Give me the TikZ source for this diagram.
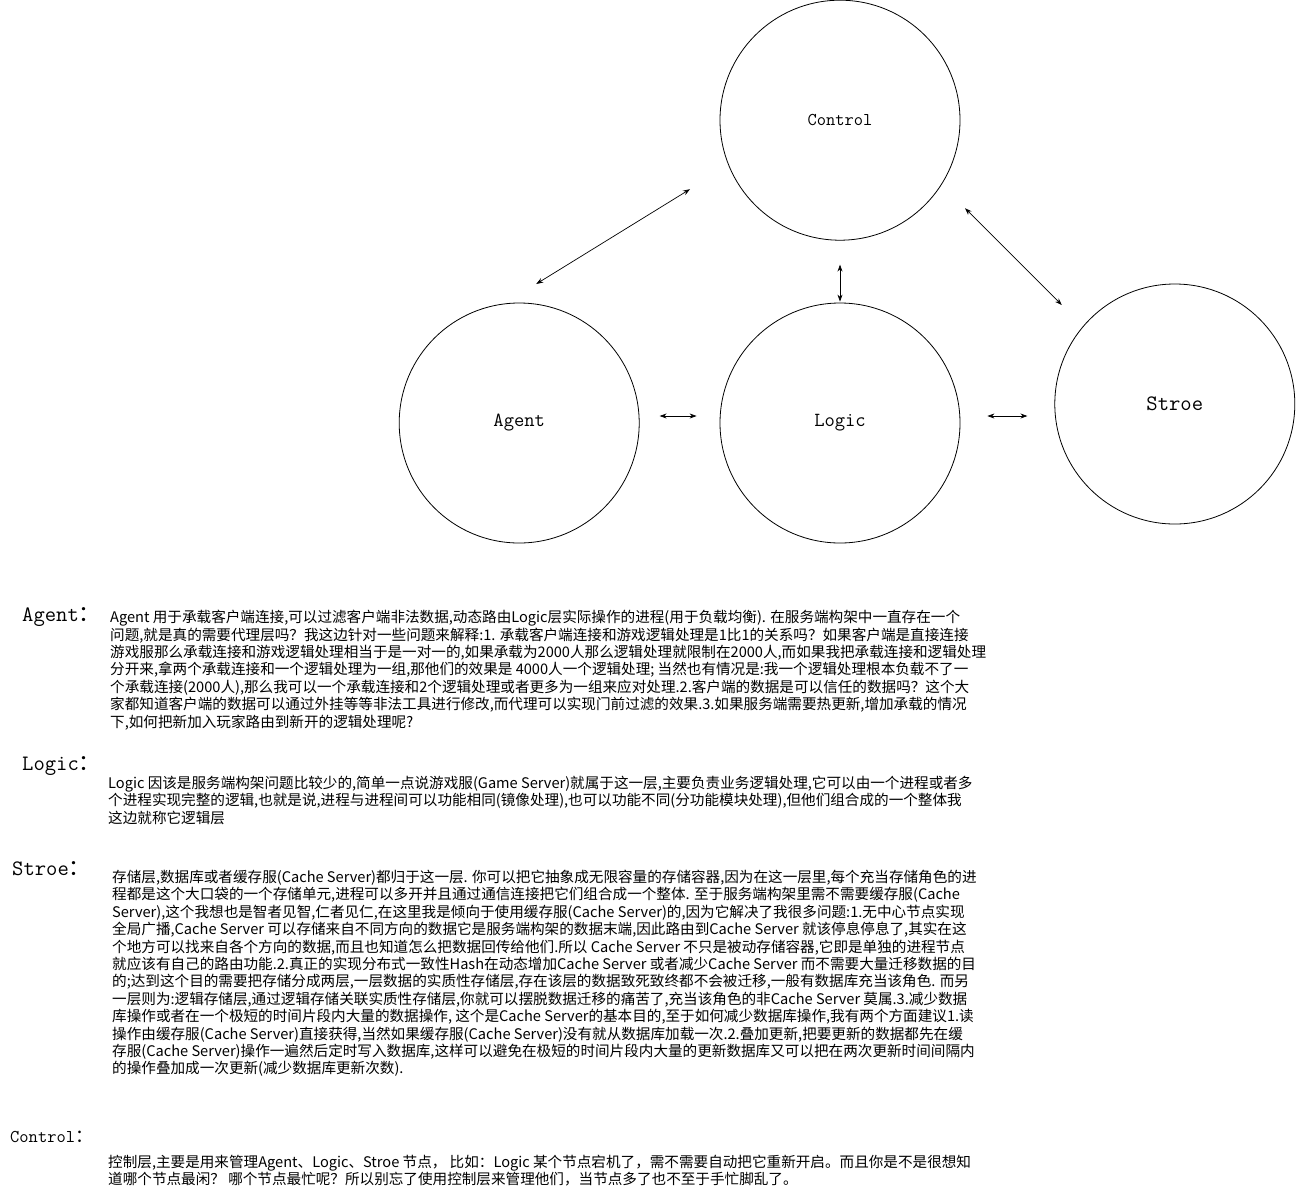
\documentclass[tikz,border=0pt]{standalone}
\usepackage{fontspec}
\newfontfamily\cjk{Noto Sans CJK SC}
\usetikzlibrary{calc,positioning,arrows.meta}

\begin{document}
\begin{tikzpicture}[x=1pt,y=-1pt,
    layer/.style={circle,draw,line width=0.8pt,minimum size=240pt,inner sep=0pt,font=\ttfamily\fontsize{20}{20}\selectfont},
    link/.style={<->,>={Stealth[length=7pt,width=5pt]},line width=0.7pt},
    head/.style={anchor=west,inner sep=0pt,font=\ttfamily\fontsize{22}{22}\selectfont},
    body/.style={anchor=north west,inner sep=0pt,align=left,font=\cjk\fontsize{14.6}{17.4}\selectfont}]
  \useasboundingbox (0,0) rectangle (1296,1195);
  \node[layer] (logic) at (840,423) {Logic};
  \node[layer,left=80pt of logic] (agent) {Agent};
  \node[layer,above=62pt of logic,font=\ttfamily\fontsize{18}{18}\selectfont] (ctrl) {Control};
  \node[layer,right=94pt of logic,yshift=19pt,font=\ttfamily\fontsize{22}{22}\selectfont] (stroe) {Stroe};
  \coordinate (ls) at ([yshift=7pt]logic.east);
  \draw[link,shorten <=20pt,shorten >=23pt] ([yshift=7pt]agent.east) -- ([yshift=7pt]logic.west);
  \draw[link,shorten <=27pt,shorten >=27pt] (ls) -- (ls -| stroe.west);
  \draw[link,shorten <=24pt,shorten >=1pt] (ctrl) -- (logic);
  \draw[link] ([shift={(-150,69)}]ctrl.center) -- ([shift={(17,-139)}]agent.center);
  \draw[link] ([shift={(125,88)}]ctrl.center) -- ([shift={(-113,-99)}]stroe.center);

  \node[head] (agenthd) at (22,617) {Agent{\cjk ：}};
  \node[head] (logichd) at (22,766) {Logic{\cjk ：}};
  \node[head] (stroehd) at (12,869) {Stroe{\cjk ：}};
  \node[head,font=\ttfamily\fontsize{18}{18}\selectfont] (ctrlhd) at (10,1137) {Control{\cjk ：}};

  \node[body] (agenttxt) at (110,610) {%
Agent 用于承载客户端连接,可以过滤客户端非法数据,动态路由Logic层实际操作的进程(用于负载均衡). 在服务端构架中一直存在一个\\
问题,就是真的需要代理层吗？我这边针对一些问题来解释:1. 承载客户端连接和游戏逻辑处理是1比1的关系吗？如果客户端是直接连接\\
游戏服那么承载连接和游戏逻辑处理相当于是一对一的,如果承载为2000人那么逻辑处理就限制在2000人,而如果我把承载连接和逻辑处理\\
分开来,拿两个承载连接和一个逻辑处理为一组,那他们的效果是 4000人一个逻辑处理; 当然也有情况是:我一个逻辑处理根本负载不了一\\
个承载连接(2000人),那么我可以一个承载连接和2个逻辑处理或者更多为一组来应对处理.2.客户端的数据是可以信任的数据吗？这个大\\
家都知道客户端的数据可以通过外挂等等非法工具进行修改,而代理可以实现门前过滤的效果.3.如果服务端需要热更新,增加承载的情况\\
下,如何把新加入玩家路由到新开的逻辑处理呢?};

  \node[body] (logictxt) at (108,776) {%
Logic 因该是服务端构架问题比较少的,简单一点说游戏服(Game Server)就属于这一层,主要负责业务逻辑处理,它可以由一个进程或者多\\
个进程实现完整的逻辑,也就是说,进程与进程间可以功能相同(镜像处理),也可以功能不同(分功能模块处理),但他们组合成的一个整体我\\
这边就称它逻辑层};

  \node[body] (stroetxt) at (112,870) {%
存储层,数据库或者缓存服(Cache Server)都归于这一层. 你可以把它抽象成无限容量的存储容器,因为在这一层里,每个充当存储角色的进\\
程都是这个大口袋的一个存储单元,进程可以多开并且通过通信连接把它们组合成一个整体. 至于服务端构架里需不需要缓存服(Cache\\
Server),这个我想也是智者见智,仁者见仁,在这里我是倾向于使用缓存服(Cache Server)的,因为它解决了我很多问题:1.无中心节点实现\\
全局广播,Cache Server 可以存储来自不同方向的数据它是服务端构架的数据末端,因此路由到Cache Server 就该停息停息了,其实在这\\
个地方可以找来自各个方向的数据,而且也知道怎么把数据回传给他们.所以 Cache Server 不只是被动存储容器,它即是单独的进程节点\\
就应该有自己的路由功能.2.真正的实现分布式一致性Hash在动态增加Cache Server 或者减少Cache Server 而不需要大量迁移数据的目\\
的;达到这个目的需要把存储分成两层,一层数据的实质性存储层,存在该层的数据致死致终都不会被迁移,一般有数据库充当该角色. 而另\\
一层则为:逻辑存储层,通过逻辑存储关联实质性存储层,你就可以摆脱数据迁移的痛苦了,充当该角色的非Cache Server 莫属.3.减少数据\\
库操作或者在一个极短的时间片段内大量的数据操作, 这个是Cache Server的基本目的,至于如何减少数据库操作,我有两个方面建议1.读\\
操作由缓存服(Cache Server)直接获得,当然如果缓存服(Cache Server)没有就从数据库加载一次.2.叠加更新,把要更新的数据都先在缓\\
存服(Cache Server)操作一遍然后定时写入数据库,这样可以避免在极短的时间片段内大量的更新数据库又可以把在两次更新时间间隔内\\
的操作叠加成一次更新(减少数据库更新次数).};

  \node[body] (ctrltxt) at (108,1155) {%
控制层,主要是用来管理Agent、Logic、Stroe 节点， 比如：Logic 某个节点宕机了，需不需要自动把它重新开启。而且你是不是很想知\\
道哪个节点最闲？ 哪个节点最忙呢？所以别忘了使用控制层来管理他们，当节点多了也不至于手忙脚乱了。};
\end{tikzpicture}
\end{document}
